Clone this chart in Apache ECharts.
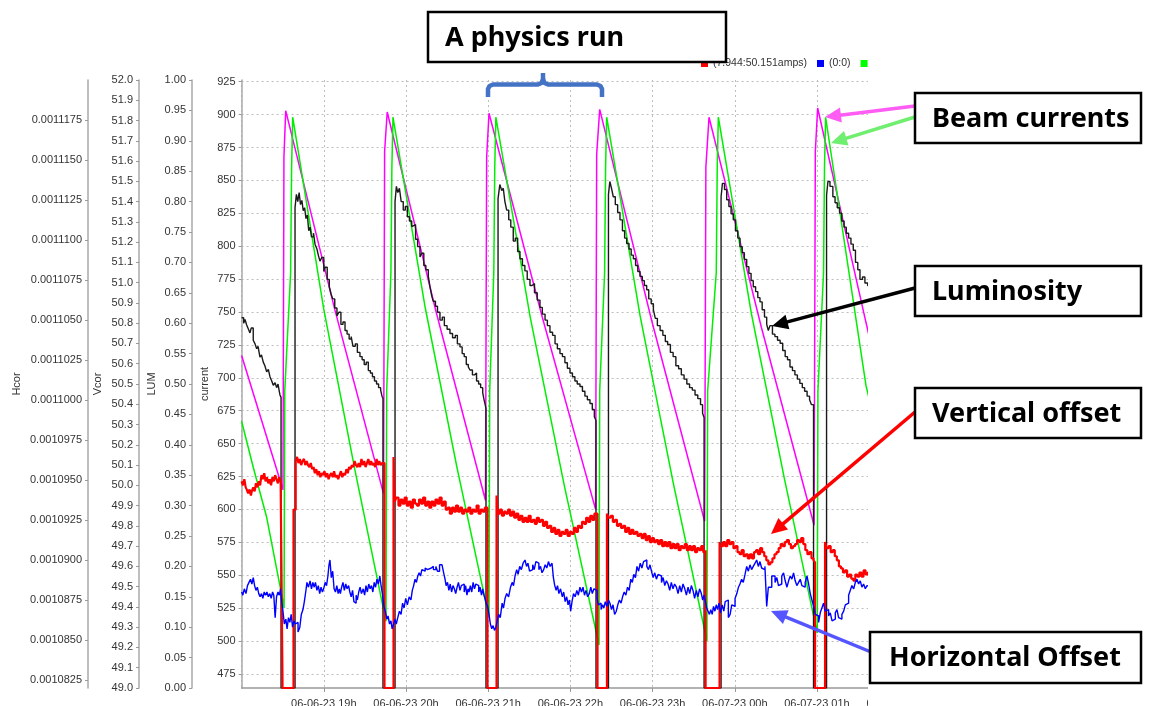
<!DOCTYPE html>
<html><head><meta charset="utf-8">
<script src="https://cdn.jsdelivr.net/npm/echarts@6/dist/echarts.min.js"></script>
<style>html,body{margin:0;padding:0;background:#fff}#c{width:1153px;height:706px}</style>
</head><body><div id="c"></div>
<script>
// x values: minutes after 06-06-23 18:00
const xTickLabels = ['', '06-06-23 19h', '06-06-23 20h', '06-06-23 21h', '06-06-23 22h', '06-06-23 23h', '06-07-23 00h', '06-07-23 01h', '06-07-23 02h'];
const currentTicks = [475,500,525,550,575,600,625,650,675,700,725,750,775,800,825,850,875,900,925];
const hcorTicks = [0.0010825,0.0010850,0.0010875,0.0010900,0.0010925,0.0010950,0.0010975,0.0011000,0.0011025,0.0011050,0.0011075,0.0011100,0.0011125,0.0011150,0.0011175];

// beam current (magenta) [min, mA]
const beamCurrentA = [[0,717],[30.2,615],[30.9,868],[32.2,903],[68.0,752],[103.6,612],[104.4,872],[106.3,902],[142.0,750],[178.0,607],[178.9,868],[180.6,901],[219.5,746],[258.4,600],[259.2,870],[261.4,904],[299.7,742],[338.0,591],[338.9,860],[341.2,898],[379.5,738],[417.9,588],[418.8,872],[420.5,905],[455.8,742],[480.7,630]];

// beam current (green) [min, mA]
const beamCurrentB = [[0,667],[8.5,632],[18.3,594],[29.5,534],[31.0,525],
[31.5,690],[35.8,780],[36.5,860],[37.3,898],[60.0,752],[82.7,630],[105.4,515],
[105.9,690],[109.0,780],[109.7,860],[110.5,898],[133.9,754],[157.2,632],[180.6,518],
[181.1,690],[184.1,780],[184.8,860],[185.6,898],[210.7,746],[235.8,617],[260.9,497],
[261.4,690],[265.0,780],[265.7,860],[266.5,898],[290.9,747],[315.3,619],[339.7,500],
[340.2,690],[346.5,780],[347.2,860],[348.0,898],[372.1,749],[396.1,624],[420.2,506],
[420.7,690],[424.8,780],[425.5,860],[426.3,898],[455.8,694],[480.7,590]];

// luminosity (black) [min, LUM]
const lumData = [[0,0.609],[1.5,0.600],[2.5,0.606],[3.7,0.597],[5.0,0.590],[6.1,0.584],[7.0,0.592],[8.5,0.572],[9.8,0.566],[11.0,0.558],[12.0,0.562],[13.4,0.544],[14.5,0.548],[15.8,0.536],[17.0,0.530],[18.3,0.520],[19.5,0.524],[20.7,0.512],[22.0,0.505],[23.1,0.498],[24.4,0.502],[25.6,0.494],[26.6,0.500],[27.5,0.488],[28.0,0.482],[28.8,0.478],[28.8,0],
[39.0,0],[39.0,0.790],[40.0,0.812],[41.0,0.800],[42.0,0.815],[43.0,0.795],[44.0,0.802],[45.0,0.785],[46.0,0.790],[47.0,0.772],[48.0,0.778],[49.0,0.752],[50.0,0.758],[51.0,0.742],[52.5,0.748],[53.6,0.730],[55.0,0.722],[56.0,0.712],[57.2,0.702],[58.5,0.708],[60.0,0.685],[61.0,0.692],[62.5,0.672],[64.0,0.660],[65.3,0.648],[66.5,0.640],[68.0,0.625],[69.6,0.612],[71.0,0.618],[72.5,0.598],[74.0,0.602],[75.5,0.588],[77.0,0.582],[78.5,0.574],[80.0,0.578],[81.3,0.562],[83.0,0.566],[84.5,0.552],[86.4,0.545],[88.0,0.540],[89.5,0.532],[91.0,0.536],[92.5,0.522],[94.0,0.518],[95.5,0.512],[97.0,0.505],[98.5,0.500],[100.0,0.494],[101.5,0.490],[102.5,0.480],[103.2,0.476],[103.2,0],
[112.0,0],[112.0,0.800],[113.0,0.825],[114.0,0.815],[115.2,0.822],[116.5,0.800],[118.0,0.786],[119.5,0.792],[121.0,0.775],[122.5,0.768],[124.2,0.759],[125.5,0.762],[127.0,0.738],[128.5,0.726],[130.2,0.709],[131.5,0.715],[133.0,0.695],[134.5,0.688],[136.3,0.677],[137.5,0.660],[138.8,0.645],[139.9,0.636],[141.5,0.628],[143.0,0.618],[144.8,0.605],[146.5,0.610],[148.0,0.596],[150.0,0.590],[152.1,0.583],[154.0,0.576],[156.0,0.580],[157.5,0.566],[159.4,0.561],[161.0,0.550],[162.5,0.545],[164.0,0.532],[165.5,0.528],[166.7,0.523],[168.5,0.515],[170.0,0.518],[171.5,0.505],[173.0,0.500],[174.5,0.494],[176.0,0.486],[177.0,0.474],[178.4,0.460],[178.4,0],
[187.2,0],[187.2,0.805],[188.5,0.828],[189.9,0.818],[191.0,0.822],[192.2,0.800],[193.5,0.786],[195.0,0.770],[196.5,0.758],[198.3,0.735],[199.8,0.740],[201.5,0.718],[203.2,0.706],[205.0,0.695],[206.8,0.686],[208.5,0.672],[210.5,0.662],[212.0,0.665],[213.8,0.650],[215.8,0.638],[217.8,0.626],[219.5,0.615],[221.5,0.605],[223.2,0.596],[225.1,0.585],[227.0,0.580],[228.8,0.566],[230.5,0.558],[232.4,0.550],[234.2,0.545],[236.0,0.535],[237.8,0.526],[239.7,0.518],[241.5,0.512],[243.3,0.505],[245.0,0.500],[247.0,0.496],[248.8,0.488],[250.6,0.480],[252.4,0.474],[254.3,0.468],[256.0,0.458],[257.5,0.446],[258.7,0.440],[258.7,0],
[267.8,0],[267.8,0.812],[268.8,0.833],[270.0,0.822],[271.3,0.808],[272.8,0.795],[274.5,0.782],[276.2,0.770],[278.0,0.752],[279.6,0.740],[281.1,0.731],[282.8,0.722],[284.4,0.712],[286.0,0.706],[287.6,0.695],[289.2,0.685],[290.8,0.677],[292.5,0.670],[294.0,0.662],[295.7,0.655],[297.2,0.640],[299.0,0.632],[300.6,0.622],[302.0,0.608],[303.5,0.596],[305.5,0.588],[307.5,0.580],[309.3,0.570],[311.0,0.565],[313.0,0.552],[315.0,0.545],[317.0,0.530],[319.0,0.525],[321.0,0.515],[323.0,0.508],[325.0,0.500],[327.0,0.494],[329.0,0.490],[331.0,0.482],[333.0,0.476],[335.0,0.466],[336.5,0.452],[337.6,0.445],[337.6,0],
[350.0,0],[350.0,0.808],[351.0,0.830],[352.5,0.820],[354.1,0.803],[355.7,0.792],[357.3,0.780],[358.9,0.770],[360.5,0.752],[362.2,0.740],[363.8,0.726],[365.4,0.716],[367.0,0.705],[368.7,0.693],[370.3,0.682],[371.9,0.670],[373.5,0.660],[375.2,0.652],[376.8,0.642],[378.4,0.635],[380.0,0.622],[381.7,0.610],[383.3,0.598],[384.5,0.588],[385.7,0.596],[387.5,0.582],[389.3,0.578],[391.2,0.572],[393.1,0.567],[395.0,0.555],[396.8,0.545],[398.5,0.540],[400.3,0.528],[402.1,0.522],[403.9,0.515],[405.7,0.508],[407.5,0.501],[409.3,0.494],[411.0,0.488],[412.8,0.480],[414.6,0.474],[416.0,0.466],[417.5,0.458],[417.5,0],
[427.0,0],[427.0,0.810],[428.0,0.833],[429.5,0.825],[431.6,0.808],[433.2,0.798],[434.8,0.790],[436.5,0.781],[438.1,0.768],[439.8,0.758],[441.4,0.748],[443.1,0.740],[444.8,0.730],[446.5,0.720],[448.1,0.700],[449.8,0.688],[451.4,0.672],[453.2,0.676],[455.0,0.666],[457.0,0.662],[460.0,0.650],[465.0,0.640],[470.0,0.630],[480.0,0.610]];

// vertical offset (red) [min, Vcor]
const vcorData = [[0,50.02],[1.0,50.00],[2.0,50.03],[3.0,49.99],[3.7,49.98],[4.8,49.96],[5.8,49.98],[6.8,49.95],[7.4,49.97],[8.5,49.99],[9.5,49.97],[10.5,50.01],[11.5,49.99],[12.5,50.02],[13.5,50.00],[14.5,50.05],[15.5,50.03],[16.5,50.06],[17.5,50.02],[18.5,50.04],[19.5,50.01],[20.5,50.03],[21.5,50.00],[22.5,50.04],[23.5,50.02],[24.5,50.05],[25.5,50.03],[26.5,50.01],[27.5,50.04],[28.5,50.02],[29.9,50.02],[29.9,49.0],
[37.9,49.0],[37.9,49.88],[39.5,50.12],[40.5,50.14],[41.5,50.11],[42.5,50.13],[43.5,50.10],[44.5,50.12],[45.5,50.13],[46.5,50.10],[47.5,50.12],[48.5,50.10],[49.5,50.09],[50.5,50.11],[51.5,50.08],[52.5,50.09],[53.5,50.06],[54.5,50.08],[55.5,50.05],[56.5,50.07],[57.5,50.04],[58.5,50.06],[59.5,50.05],[60.5,50.07],[61.5,50.04],[62.5,50.06],[63.5,50.03],[64.5,50.05],[65.5,50.06],[66.5,50.04],[67.5,50.07],[68.5,50.04],[69.5,50.05],[70.5,50.03],[71.5,50.05],[72.5,50.07],[73.5,50.04],[74.5,50.06],[75.5,50.05],[76.5,50.08],[77.5,50.06],[78.5,50.09],[79.5,50.08],[80.5,50.10],[81.5,50.09],[82.5,50.12],[83.5,50.10],[84.5,50.09],[85.5,50.11],[86.5,50.09],[87.5,50.13],[88.5,50.10],[89.5,50.12],[90.5,50.09],[91.5,50.11],[92.5,50.13],[93.5,50.10],[94.5,50.12],[95.5,50.10],[96.5,50.11],[97.5,50.09],[98.5,50.13],[99.5,50.10],[100.5,50.12],[101.5,50.10],[102.5,50.11],[104.3,50.10],[104.3,49.0],
[110.9,49.0],[110.9,50.14],[111.8,49.92],[113,49.94],[114.5,49.90],[116,49.93],[117.5,49.91],[119,49.94],[120.5,49.90],[122,49.92],[123.5,49.89],[125,49.93],[126.5,49.91],[128,49.90],[129.5,49.93],[131,49.91],[132.5,49.94],[134,49.90],[135.5,49.92],[137,49.89],[138.5,49.92],[140,49.90],[141.5,49.93],[143,49.91],[144.5,49.94],[146,49.90],[147.5,49.92],[149,49.88],[150.5,49.89],[152,49.86],[153.5,49.89],[155,49.87],[156.5,49.90],[158,49.87],[159.5,49.89],[161,49.86],[162.5,49.88],[164,49.87],[165.5,49.89],[167,49.86],[168.5,49.88],[170,49.87],[171.5,49.90],[173,49.86],[174.5,49.88],[176,49.87],[177.5,49.89],[179.5,49.88],[179.5,49.0],
[186.1,49.0],[186.1,49.95],[187.0,49.86],[188.5,49.88],[190,49.85],[191.5,49.87],[193,49.86],[194.5,49.88],[196,49.85],[197.5,49.87],[199,49.84],[200.5,49.86],[202,49.83],[203.5,49.85],[205,49.82],[206.5,49.84],[208,49.82],[209.5,49.85],[211,49.82],[212.5,49.83],[214,49.81],[215.5,49.84],[217,49.82],[218.5,49.83],[220,49.80],[221.5,49.82],[223,49.79],[224.5,49.80],[226,49.77],[227.5,49.79],[229,49.76],[230.5,49.78],[232,49.75],[233.5,49.77],[235,49.76],[236.5,49.78],[238,49.75],[239.5,49.77],[241,49.76],[242.5,49.79],[244,49.77],[245.5,49.80],[247,49.79],[248.5,49.82],[250,49.81],[251.5,49.84],[253,49.82],[254.5,49.85],[256,49.83],[257.5,49.86],[259.8,49.84],[259.8,49.0],
[266.7,49.0],[266.7,49.86],[268,49.84],[269.5,49.85],[271,49.82],[272.5,49.83],[274,49.80],[275.5,49.81],[277,49.79],[278.5,49.80],[280,49.77],[281.5,49.79],[283,49.76],[284.5,49.78],[286,49.76],[287.5,49.77],[289,49.75],[290.5,49.76],[292,49.74],[293.5,49.76],[295,49.73],[296.5,49.75],[298,49.72],[299.5,49.74],[301,49.72],[302.5,49.73],[304,49.71],[305.5,49.73],[307,49.70],[308.5,49.72],[310,49.70],[311.5,49.72],[313,49.69],[314.5,49.71],[316,49.69],[317.5,49.71],[319,49.68],[320.5,49.70],[322,49.69],[323.5,49.71],[325,49.68],[326.5,49.70],[328,49.68],[329.5,49.70],[331,49.67],[332.5,49.69],[334,49.68],[335.5,49.70],[337,49.67],[338.7,49.68],[338.7,49.0],
[348.9,49.0],[348.9,49.72],[350,49.70],[351.5,49.72],[353,49.70],[354.5,49.73],[356,49.71],[357.5,49.72],[359,49.69],[360.5,49.70],[362,49.67],[363.5,49.66],[365,49.68],[366.5,49.65],[368,49.66],[369.5,49.64],[371,49.66],[372.5,49.64],[374,49.67],[375.5,49.68],[377,49.66],[378.5,49.69],[380,49.67],[381.5,49.65],[383,49.63],[384.5,49.61],[386,49.62],[387.5,49.64],[389,49.66],[390.5,49.67],[392,49.69],[393.5,49.71],[395,49.70],[396.5,49.72],[398,49.73],[399.5,49.71],[401,49.69],[402.5,49.70],[404,49.71],[405.5,49.73],[407,49.72],[408.5,49.74],[410,49.71],[411.5,49.68],[413,49.66],[414.5,49.67],[416,49.64],[417.5,49.63],[418.6,49.62],[418.6,49.0],
[425.9,49.0],[425.9,49.72],[427,49.69],[428.5,49.70],[430,49.67],[431.5,49.68],[433,49.65],[434.5,49.63],[436,49.60],[437.5,49.59],[439,49.57],[440.5,49.58],[442,49.55],[443.5,49.56],[445,49.54],[446.5,49.53],[448,49.56],[449.5,49.55],[451,49.57],[452.5,49.55],[454,49.58],[455.5,49.56],[457,49.57],[460,49.55],[465,49.56],[480,49.55]];

// horizontal offset (blue) [min, Hcor]
const hcorData = [[0,0.0010880],[0.9,0.0010878],[2.0,0.0010882],[3.2,0.0010879],[4.3,0.0010884],[5.4,0.0010886],[6.5,0.0010888],[7.5,0.0010885],[8.5,0.0010889],[9.5,0.0010884],[10.5,0.0010881],[11.5,0.0010883],[12.5,0.0010879],[13.5,0.0010877],[14.5,0.0010879],[15.5,0.0010876],[16.5,0.0010880],[17.5,0.0010878],[18.5,0.0010880],[19.5,0.0010877],[20.6,0.0010879],[21.6,0.0010876],[22.6,0.0010880],[23.5,0.0010878],[24.5,0.0010864],[25.5,0.0010877],[26.6,0.0010880],[27.6,0.0010878],[28.4,0.0010882],[29.1,0.0010875],
[30.2,0.0010868],[31.2,0.0010860],[32.3,0.0010863],[33.2,0.0010857],[34.2,0.0010864],[35.2,0.0010861],[36.2,0.0010866],[37.2,0.0010858],[38.2,0.0010862],[39.2,0.0010860],[40.3,0.0010861],[41.2,0.0010855],[42.5,0.0010858],[43.6,0.0010866],[44.8,0.0010869],[45.8,0.0010874],[46.8,0.0010880],[47.7,0.0010886],[48.8,0.0010883],[50.0,0.0010887],[51.0,0.0010882],[52.0,0.0010886],[53.0,0.0010883],[53.9,0.0010886],[55.0,0.0010881],[56.0,0.0010884],[57.0,0.0010879],[58.0,0.0010883],[59.0,0.0010880],[59.9,0.0010882],[61.0,0.0010886],[62.0,0.0010884],[63.0,0.0010890],[63.8,0.0010897],[64.5,0.0010900],[65.5,0.0010889],[66.5,0.0010893],[67.5,0.0010882],[68.5,0.0010880],[69.5,0.0010884],[70.5,0.0010879],[71.3,0.0010882],[72.1,0.0010879],[73.0,0.0010883],[74.0,0.0010886],[75.0,0.0010881],[76.0,0.0010885],[77.0,0.0010882],[78.1,0.0010884],[79.0,0.0010880],[80.0,0.0010877],[81.0,0.0010881],[82.0,0.0010874],[82.7,0.0010873],[83.6,0.0010878],[84.5,0.0010875],[85.5,0.0010880],[86.5,0.0010883],[87.5,0.0010879],[88.8,0.0010882],[89.8,0.0010878],[90.8,0.0010884],[91.8,0.0010880],[92.8,0.0010885],[93.8,0.0010882],[94.8,0.0010884],[95.8,0.0010880],[96.8,0.0010886],[97.8,0.0010883],[98.8,0.0010888],[99.8,0.0010885],[100.9,0.0010890],[101.8,0.0010884],[102.8,0.0010879],[103.9,0.0010871],
[104.9,0.0010868],[106.0,0.0010863],[106.9,0.0010865],[108.0,0.0010860],[109.0,0.0010862],[109.9,0.0010857],[111.0,0.0010860],[112.0,0.0010863],[112.9,0.0010860],[114.0,0.0010864],[115.2,0.0010868],[116.4,0.0010866],[117.5,0.0010873],[118.6,0.0010870],[119.8,0.0010876],[121.0,0.0010872],[122.3,0.0010877],[123.6,0.0010875],[124.6,0.0010881],[125.6,0.0010884],[126.6,0.0010888],[127.6,0.0010886],[128.6,0.0010890],[129.6,0.0010892],[130.6,0.0010890],[131.6,0.0010894],[132.8,0.0010893],[134.0,0.0010895],[135.0,0.0010894],[135.7,0.0010895],[137.0,0.0010895],[138.5,0.0010896],[140.0,0.0010894],[141.8,0.0010896],[143.0,0.0010893],[144.5,0.0010897],[146.3,0.0010898],[147.5,0.0010892],[148.5,0.0010888],[149.3,0.0010884],[150.3,0.0010886],[151.3,0.0010881],[152.3,0.0010885],[153.3,0.0010880],[154.3,0.0010884],[155.3,0.0010882],[156.3,0.0010879],[157.3,0.0010883],[158.3,0.0010886],[159.4,0.0010881],[160.4,0.0010884],[161.4,0.0010885],[162.5,0.0010880],[163.5,0.0010884],[164.5,0.0010878],[165.3,0.0010882],[166.0,0.0010880],[167.0,0.0010884],[168.0,0.0010880],[169.0,0.0010886],[170.0,0.0010882],[171.0,0.0010885],[172.1,0.0010884],[173.1,0.0010880],[174.1,0.0010883],[175.1,0.0010878],[176.0,0.0010882],[176.6,0.0010879],[177.6,0.0010876],[178.6,0.0010873],
[179.6,0.0010871],[180.6,0.0010866],[181.6,0.0010860],[182.6,0.0010857],[183.6,0.0010859],[184.6,0.0010856],[185.6,0.0010858],[186.6,0.0010862],[187.6,0.0010866],[188.8,0.0010864],[190.2,0.0010873],[191.2,0.0010870],[192.3,0.0010876],[193.5,0.0010879],[194.9,0.0010877],[196.3,0.0010883],[197.5,0.0010886],[198.5,0.0010884],[199.6,0.0010890],[200.8,0.0010894],[201.8,0.0010891],[203.0,0.0010896],[204.2,0.0010894],[205.5,0.0010898],[206.9,0.0010900],[208.0,0.0010896],[209.0,0.0010898],[210.2,0.0010893],[211.4,0.0010894],[212.5,0.0010897],[213.6,0.0010894],[214.8,0.0010899],[215.9,0.0010898],[217.0,0.0010894],[218.2,0.0010896],[219.3,0.0010892],[220.5,0.0010894],[221.6,0.0010897],[222.8,0.0010895],[224.0,0.0010899],[225.2,0.0010896],[226.6,0.0010898],[227.6,0.0010889],[228.6,0.0010884],[229.6,0.0010881],[230.6,0.0010884],[231.6,0.0010879],[232.8,0.0010882],[234.1,0.0010877],[235.1,0.0010880],[236.2,0.0010874],[237.3,0.0010877],[238.3,0.0010872],[239.3,0.0010875],[240.2,0.0010868],[241.2,0.0010874],[242.3,0.0010879],[243.5,0.0010877],[244.7,0.0010881],[245.8,0.0010878],[247.0,0.0010883],[248.1,0.0010880],[249.2,0.0010883],[250.3,0.0010878],[251.4,0.0010881],[252.6,0.0010877],[253.8,0.0010879],[254.9,0.0010883],[256.0,0.0010879],[257.2,0.0010882],[258.3,0.0010881],
[259.5,0.0010876],[260.4,0.0010872],[261.4,0.0010873],[262.4,0.0010869],[263.4,0.0010872],[264.4,0.0010870],[265.5,0.0010874],[266.6,0.0010871],[267.8,0.0010875],[268.9,0.0010873],[270.0,0.0010869],[271.1,0.0010872],[272.3,0.0010866],[273.5,0.0010868],[274.6,0.0010872],[275.8,0.0010875],[277.0,0.0010873],[278.1,0.0010877],[279.3,0.0010880],[280.5,0.0010878],[281.7,0.0010883],[282.9,0.0010881],[284.1,0.0010888],[285.2,0.0010886],[286.3,0.0010891],[287.5,0.0010889],[288.6,0.0010896],[289.8,0.0010893],[291.0,0.0010898],[292.2,0.0010895],[293.4,0.0010899],[294.7,0.0010900],[295.8,0.0010896],[297.0,0.0010894],[298.1,0.0010897],[299.2,0.0010893],[300.4,0.0010889],[301.6,0.0010892],[302.8,0.0010888],[304.0,0.0010891],[305.3,0.0010890],[306.5,0.0010886],[307.7,0.0010889],[308.9,0.0010884],[310.1,0.0010887],[311.3,0.0010885],[312.5,0.0010881],[313.7,0.0010886],[314.9,0.0010882],[316.1,0.0010885],[317.4,0.0010883],[318.6,0.0010879],[319.8,0.0010884],[321.0,0.0010880],[322.2,0.0010885],[323.5,0.0010882],[324.7,0.0010878],[325.9,0.0010883],[327.1,0.0010879],[328.3,0.0010884],[329.5,0.0010881],[330.7,0.0010876],[331.9,0.0010881],[333.1,0.0010877],[334.3,0.0010882],[335.6,0.0010879],[336.6,0.0010875],[337.6,0.0010878],
[338.6,0.0010874],[339.5,0.0010870],[340.5,0.0010868],[341.5,0.0010866],[342.5,0.0010869],[343.5,0.0010866],[344.5,0.0010871],[345.5,0.0010868],[346.5,0.0010872],[347.5,0.0010869],[348.5,0.0010873],[349.6,0.0010867],[350.8,0.0010872],[352.0,0.0010868],[353.0,0.0010874],[354.1,0.0010875],[355.3,0.0010864],[356.6,0.0010866],[357.8,0.0010872],[359.0,0.0010871],[360.2,0.0010876],[361.5,0.0010879],[362.7,0.0010883],[363.8,0.0010885],[365.0,0.0010888],[366.2,0.0010886],[367.5,0.0010891],[368.7,0.0010896],[369.9,0.0010893],[371.1,0.0010897],[372.3,0.0010894],[373.5,0.0010896],[374.8,0.0010898],[376.0,0.0010900],[377.2,0.0010896],[378.4,0.0010899],[379.6,0.0010895],[380.8,0.0010894],[382.0,0.0010896],[383.3,0.0010871],[384.5,0.0010883],[385.7,0.0010883],[387.0,0.0010890],[388.2,0.0010890],[389.4,0.0010886],[390.7,0.0010889],[391.9,0.0010884],[393.1,0.0010885],[394.3,0.0010890],[395.6,0.0010892],[396.8,0.0010887],[398.1,0.0010883],[399.3,0.0010887],[400.5,0.0010890],[401.7,0.0010888],[402.9,0.0010892],[404.1,0.0010887],[405.3,0.0010884],[406.6,0.0010886],[407.8,0.0010888],[409.0,0.0010884],[410.2,0.0010883],[411.4,0.0010886],[412.7,0.0010890],[413.9,0.0010885],[415.1,0.0010879],[416.3,0.0010875],[417.6,0.0010871],
[418.8,0.0010866],[420.0,0.0010865],[421.2,0.0010861],[422.4,0.0010867],[423.6,0.0010870],[424.8,0.0010873],[426.0,0.0010868],[427.3,0.0010869],[428.5,0.0010865],[429.7,0.0010867],[431.0,0.0010862],[432.2,0.0010863],[433.4,0.0010867],[434.6,0.0010869],[435.8,0.0010864],[437.0,0.0010863],[438.2,0.0010866],[439.5,0.0010868],[440.7,0.0010872],[441.9,0.0010873],[443.1,0.0010878],[444.3,0.0010881],[445.5,0.0010884],[446.8,0.0010882],[448.0,0.0010886],[449.2,0.0010888],[450.4,0.0010885],[451.6,0.0010887],[452.8,0.0010883],[454.0,0.0010885],[455.3,0.0010882],[456.5,0.0010884],[457.7,0.0010883],[460,0.0010880],[465,0.0010883],[480,0.0010881]];

const legendNames = ['(7.944:50.151amps)', '(0:0)', 'current'];

// ---- annotations (layout only) ----
const boxes = [
  {text:'A physics run', x:428, y:12, w:298, h:50, tx:445},
  {text:'Beam currents', x:915, y:93, w:226, h:50, tx:932},
  {text:'Luminosity', x:915, y:266, w:226, h:50, tx:932},
  {text:'Vertical offset', x:915, y:388, w:226, h:50, tx:932},
  {text:'Horizontal Offset', x:870, y:632, w:271, h:51, tx:889}
];
const arrows = [
  {from:[915,106], to:[825,117], color:'#ff5cf4'},
  {from:[915,117], to:[831,143], color:'#6fee6f'},
  {from:[915,288], to:[772,326], color:'#000000'},
  {from:[915,412], to:[771,534], color:'#ff0000'},
  {from:[871,652], to:[771,611], color:'#5555ff'}
];

function arrowEls(a) {
  const [x0,y0] = a.from, [x1,y1] = a.to;
  const dx = x1-x0, dy = y1-y0, len = Math.hypot(dx,dy), ux = dx/len, uy = dy/len;
  const L = 16, W = 7.5;
  const bx = x1-ux*L, by = y1-uy*L;
  return [
    {type:'line', z:105, shape:{x1:x0,y1:y0,x2:bx+ux*3,y2:by+uy*3}, style:{stroke:a.color, lineWidth:3.5}},
    {type:'polygon', z:105, shape:{points:[[x1,y1],[bx-uy*W,by+ux*W],[bx+uy*W,by-ux*W]]}, style:{fill:a.color}}
  ];
}

const graphics = [
  {type:'rect', z:90, shape:{x:868, y:0, width:290, height:706}, style:{fill:'#fff'}},
  {type:'polyline', z:105, shape:{points:[[488,97],[488,89],[489.5,86],[493,84.5],[538,84.5],[541.5,83],[543,79],[543,73]]}, style:{stroke:'#4472c4', lineWidth:4.5, fill:null, lineJoin:'round'}},
  {type:'polyline', z:105, shape:{points:[[543,79],[544.5,83],[548,84.5],[597,84.5],[600.5,86],[602,89],[602,97]]}, style:{stroke:'#4472c4', lineWidth:4.5, fill:null, lineJoin:'round'}}
];
arrows.forEach(a => graphics.push(...arrowEls(a)));
boxes.forEach(b => {
  graphics.push({type:'rect', z:110, shape:{x:b.x, y:b.y, width:b.w, height:b.h}, style:{fill:'#fff', stroke:'#000', lineWidth:2.5}});
  graphics.push({type:'text', z:111, style:{text:b.text, x:b.tx, y:b.y+b.h/2+1, fill:'#000', font:'bold 27px "Noto Sans", sans-serif', align:'left', verticalAlign:'middle'}});
});

const axisLineStyle = {color:'#aaaaaa', width:1.5};
const tickStyle = {color:'#999999'};
const lblStyle = {fontSize:11, color:'#333', margin:6};
const nameStyle = {fontSize:11, color:'#333'};

const chart = echarts.init(document.getElementById('c'), null, {renderer:'canvas'});
chart.setOption({
  animation:false,
  textStyle:{fontFamily:'"Liberation Sans", Arial, sans-serif'},
  grid:{left:241.6, top:80, right:196.3, bottom:18, containLabel:false, outerBoundsMode:'none'},
  legend:{show:true, left:701, top:58, icon:'rect', itemWidth:7, itemHeight:7, itemGap:10, padding:0, selectedMode:false,
          textStyle:{fontSize:10.5, color:'#333'}, data:legendNames},
  xAxis:{type:'value', min:0, max:522, interval:60,
    axisLine:{show:true, lineStyle:{color:'#999', width:1.5}},
    axisTick:{show:true, length:4, lineStyle:tickStyle},
    axisLabel:{fontSize:11, color:'#333', margin:10, showMinLabel:false, showMaxLabel:false,
      formatter:v => xTickLabels[Math.round(v/60)] || ''},
    splitLine:{show:true, lineStyle:{color:'#bdbdbd', type:[2,3], width:1}}},
  yAxis:[
    {type:'value', name:'current', nameLocation:'middle', nameGap:31, nameMoveOverlap:false, nameTextStyle:nameStyle,
     position:'left', offset:0, min:464.3, max:926.3,
     axisLine:{show:true, lineStyle:axisLineStyle},
     axisTick:{show:true, length:3, lineStyle:tickStyle, customValues:currentTicks},
     axisLabel:Object.assign({customValues:currentTicks, formatter:v => String(v)}, lblStyle),
     splitLine:{show:true, lineStyle:{color:'#bdbdbd', type:[2,3], width:1}}},
    {type:'value', name:'LUM', nameLocation:'middle', nameGap:34.5, nameMoveOverlap:false, nameTextStyle:nameStyle,
     position:'left', offset:49.6, min:0, max:1, interval:0.05,
     axisLine:{show:true, lineStyle:axisLineStyle},
     axisTick:{show:true, length:3, lineStyle:tickStyle},
     axisLabel:Object.assign({formatter:v => v.toFixed(2)}, lblStyle),
     splitLine:{show:false}},
    {type:'value', name:'Vcor', nameLocation:'middle', nameGap:35.5, nameMoveOverlap:false, nameTextStyle:nameStyle,
     position:'left', offset:102.6, min:49, max:52, interval:0.1,
     axisLine:{show:true, lineStyle:axisLineStyle},
     axisTick:{show:true, length:3, lineStyle:tickStyle},
     axisLabel:Object.assign({formatter:v => v.toFixed(1)}, lblStyle),
     splitLine:{show:false}},
    {type:'value', name:'Hcor', nameLocation:'middle', nameGap:65.5, nameMoveOverlap:false, nameTextStyle:nameStyle,
     position:'left', offset:153.6, min:0.0010820, max:0.0011200,
     axisLine:{show:true, lineStyle:axisLineStyle},
     axisTick:{show:true, length:3, lineStyle:tickStyle, customValues:hcorTicks},
     axisLabel:Object.assign({customValues:hcorTicks, formatter:v => v.toFixed(7)}, lblStyle),
     splitLine:{show:false}}
  ],
  series:[
    {name:'beam A', type:'line', yAxisIndex:0, data:beamCurrentA, symbol:'none', showSymbol:false,
     lineStyle:{color:'#ff00ff', width:1.5}, itemStyle:{color:'#ff00ff'}, z:2},
    {name:'current', type:'line', yAxisIndex:0, data:beamCurrentB, symbol:'none', showSymbol:false,
     lineStyle:{color:'#00ee00', width:1.5}, itemStyle:{color:'#00ff00'}, z:3},
    {name:'LUM', type:'line', yAxisIndex:1, data:lumData, step:'end', symbol:'none', showSymbol:false,
     lineStyle:{color:'#1a1a1a', width:1.4}, itemStyle:{color:'#1a1a1a'}, z:4},
    {name:'(7.944:50.151amps)', type:'line', yAxisIndex:2, data:vcorData, step:'end', symbol:'none', showSymbol:false,
     lineStyle:{color:'#ff0000', width:2.2}, itemStyle:{color:'#ff0000'}, z:5},
    {name:'(0:0)', type:'line', yAxisIndex:3, data:hcorData, step:'end', symbol:'none', showSymbol:false,
     lineStyle:{color:'#0000ff', width:1.4}, itemStyle:{color:'#0000ff'}, z:6}
  ],
  graphic:{elements:graphics}
});
</script>
</body></html>
